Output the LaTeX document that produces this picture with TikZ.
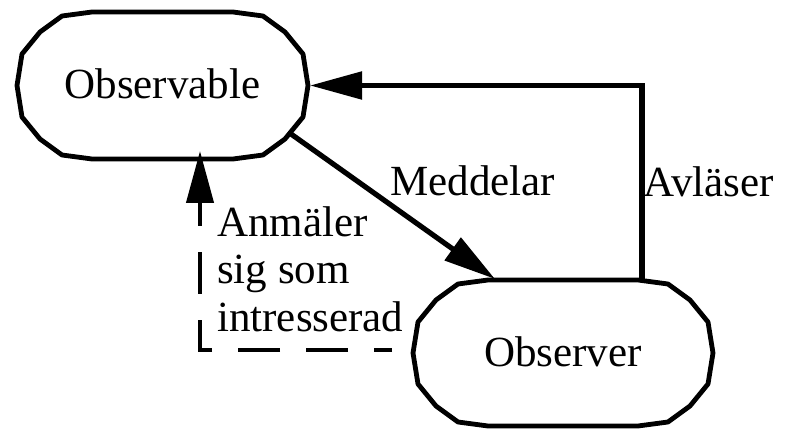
\documentclass[tikz,border=0pt]{standalone}
\usepackage{fontspec}
\setmainfont{Liberation Serif}
\usetikzlibrary{arrows.meta,calc,backgrounds}

% text size shared by every label
\newcommand\lblfont{\fontsize{43}{47.5}\selectfont}

% faceted oval outline drawn round the bounding box of node #1
\newcommand\facetoval[1]{%
  \draw[stateline] (#1.west)
    -- ($(#1.north west)+(5,42)$) -- ($(#1.north west)+(23,20)$)
    -- ($(#1.north west)+(45,4)$) -- ($(#1.north west)+(75,0)$)
    -- ($(#1.north east)+(-75,0)$) -- ($(#1.north east)+(-45,4)$)
    -- ($(#1.north east)+(-23,20)$) -- ($(#1.north east)+(-5,42)$)
    -- (#1.east)
    -- ($(#1.south east)+(-5,-42)$) -- ($(#1.south east)+(-23,-20)$)
    -- ($(#1.south east)+(-45,-4)$) -- ($(#1.south east)+(-75,0)$)
    -- ($(#1.south west)+(75,0)$) -- ($(#1.south west)+(45,-4)$)
    -- ($(#1.south west)+(23,-20)$) -- ($(#1.south west)+(5,-42)$)
    -- cycle;}

\tikzset{
  state/.style={outer sep=0pt, inner sep=0pt, font=\lblfont,
    text height=26pt, text depth=0pt},
  stateline/.style={line width=4.8pt, fill=white, line join=round},
  lbl/.style={inner sep=0pt, font=\lblfont},
  flow/.style={line width=5.2pt, -{Triangle[length=52pt,width=27pt]}},
  regflow/.style={line width=4.2pt, dash pattern=on 42pt off 26pt, dash phase=24pt,
    -{Triangle[length=52pt,width=27pt]}},
}

\begin{document}
\begin{tikzpicture}[x=1pt,y=-1pt]
\useasboundingbox (0,0) rectangle (787,430);

% the two objects
\node[state, minimum width=291pt, minimum height=147pt] (obsable) at (162.5,85.5) {Observable};
\node[state, minimum width=300pt, minimum height=146pt] (obsver) at (563,353) {Observer};
\begin{scope}[on background layer]
  \facetoval{obsable}
  \facetoval{obsver}
\end{scope}

% Observable notifies the observer
\draw[flow] ($(obsable.south east)+(-17,-25)$) -- ($(obsver.north)+(-68,-1)$);
% observer reads back the state
\draw[flow] ($(obsver.north)+(79,0)$) |- ($(obsable.east)+(2,0)$);
% registration of interest
\draw[regflow] ($(obsver.west)+(-21,-3)$) -| ($(obsable.south)+(37.5,-8)$);

% connector labels
\node[lbl, anchor=base west] (meddelar) at (390,196) {Meddelar};
\node[lbl, anchor=base west] (avlaser) at (643,197) {Avläser};
\node[lbl, anchor=north west, align=left] (anmaler) at (217,206) {Anmäler\\sig som\\intresserad};
\end{tikzpicture}
\end{document}
